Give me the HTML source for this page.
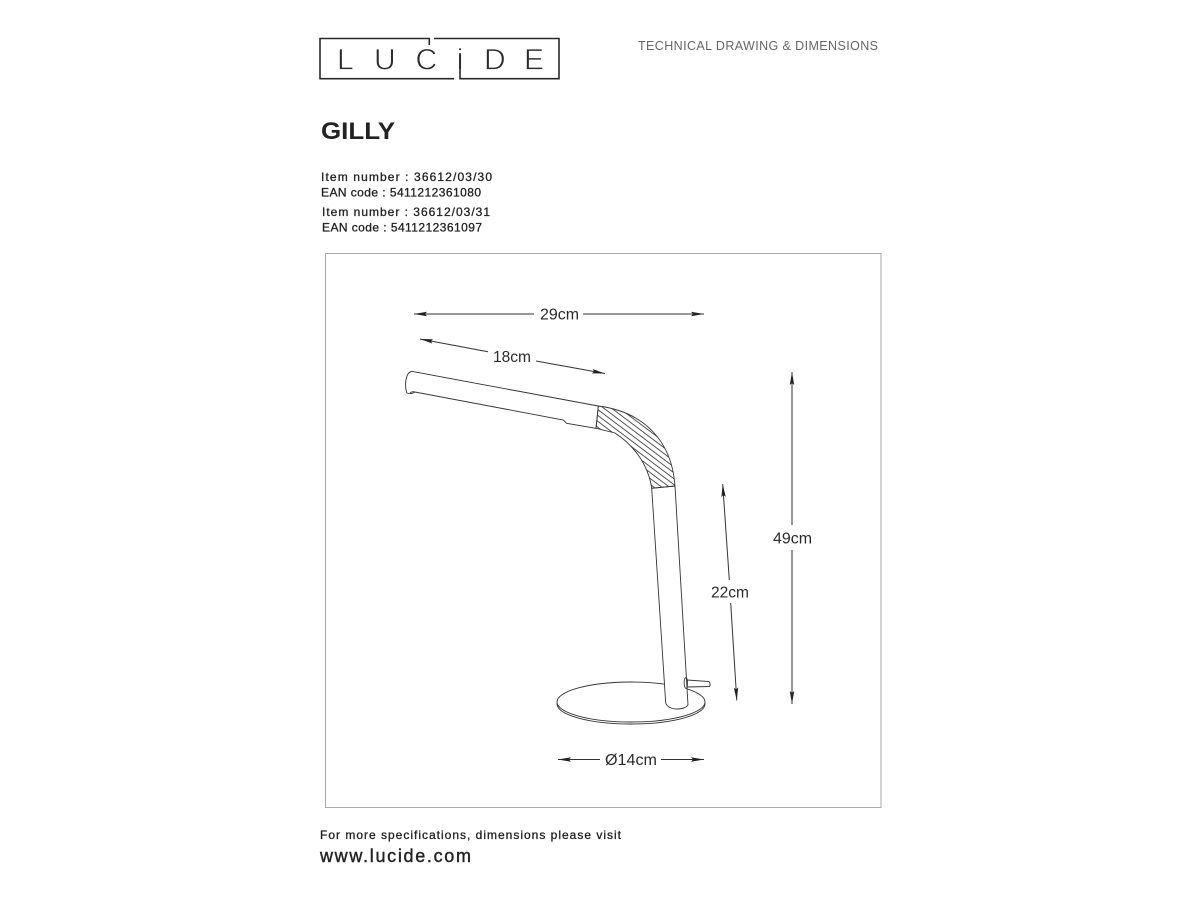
<!DOCTYPE html>
<html><head><meta charset="utf-8"><style>
html,body{margin:0;padding:0;background:#fff;width:1200px;height:900px;overflow:hidden}
svg{display:block}
text{font-family:"Liberation Sans",sans-serif}
.s{font-size:12px;fill:#222;stroke:#222;stroke-width:.3}
.d{font-size:15.5px;fill:#2a2a2a}
.l{font-size:30px;fill:#2a2a2a;stroke:#fff;stroke-width:.7}
.a{stroke:#333;stroke-width:1;fill:none;marker-end:url(#ah)}
.k{stroke:#333;stroke-width:.9;fill:none}
</style></head><body>
<svg width="1200" height="900" viewBox="0 0 1200 900" xmlns="http://www.w3.org/2000/svg">
<defs>
<marker id="ah" markerUnits="userSpaceOnUse" markerWidth="14" markerHeight="8" viewBox="0 -4 14 8" refX="13" refY="0" orient="auto">
<path d="M0,-2.2 L13,0 L0,2.2 L2,0 Z" fill="#222"/>
</marker>
<pattern id="h" width="20" height="4.7" patternUnits="userSpaceOnUse" patternTransform="translate(600 410) rotate(37)">
<line x1="0" y1="1" x2="20" y2="1" stroke="#333" stroke-width=".8"/>
</pattern>
</defs>

<!-- logo -->
<text class="l" x="337" y="69.500">L</text>
<text class="l" x="374" y="69.500">U</text>
<text class="l" x="415.500" y="69.500">C</text>
<text class="l" x="456.700" y="69.500">i</text>
<text class="l" x="484" y="69.500">D</text>
<text class="l" x="524" y="69.500">E</text>
<path d="M429.300 45V38.500H320V78.700H454M434 38.500H559V78.700H460V53" fill="none" stroke="#2a2a2a" stroke-width="1.6"/>

<text x="638" y="50" font-size="12.5" fill="#666" textLength="240" lengthAdjust="spacing">TECHNICAL DRAWING &amp; DIMENSIONS</text>
<text x="321" y="139" font-size="24" font-weight="bold" fill="#222" textLength="74" lengthAdjust="spacingAndGlyphs">GILLY</text>

<text class="s" x="321" y="181" textLength="171" lengthAdjust="spacing">Item number : 36612/03/30</text>
<text class="s" x="321" y="196.500" textLength="160" lengthAdjust="spacing">EAN code : 5411212361080</text>
<text class="s" x="322" y="216" textLength="168" lengthAdjust="spacing">Item number : 36612/03/31</text>
<text class="s" x="322" y="231.500" textLength="160" lengthAdjust="spacing">EAN code : 5411212361097</text>

<rect x="325.500" y="253.500" width="555.500" height="554" fill="none" stroke="#aaa" stroke-width="1"/>

<!-- dimensions -->
<path class="a" d="M534 314H414"/><path class="a" d="M583 314H704"/>
<text class="d" x="540" y="319.500" textLength="39" lengthAdjust="spacingAndGlyphs">29cm</text>
<path class="a" d="M488 351.700L420 339"/><path class="a" d="M536 361L605 373.500"/>
<text class="d" x="493" y="362" textLength="38" lengthAdjust="spacingAndGlyphs">18cm</text>
<path class="a" d="M792 525V372"/><path class="a" d="M792 550V704"/>
<text class="d" x="773" y="543.500" textLength="39" lengthAdjust="spacingAndGlyphs">49cm</text>
<path class="a" d="M729.300 580L722.700 484"/><path class="a" d="M730.700 603L736.800 700.500"/>
<text class="d" x="711" y="597.500" textLength="38" lengthAdjust="spacingAndGlyphs">22cm</text>
<path class="a" d="M600 759.500H558"/><path class="a" d="M661 759.500H704"/>
<text class="d" x="605" y="765" textLength="52" lengthAdjust="spacingAndGlyphs">Ø14cm</text>

<!-- base -->
<ellipse cx="631" cy="704" rx="74" ry="20" fill="#fff" stroke="#333" stroke-width=".9"/>
<ellipse cx="631" cy="702" rx="74" ry="20" fill="#fff" stroke="#333" stroke-width=".9"/>

<!-- stem -->
<path d="M651.700 488.300L665.700 703C667 707 672 709 677 709C682 709 686 708 688 705L675 486Z" fill="#fff" stroke="#333" stroke-width=".9"/>

<!-- switch -->
<path class="k" d="M687 680L709 681.500Q711 684 709.500 686.500L687 687"/>
<path class="k" d="M686 677.500C683.500 678 683.500 687 686 688.500C688 688 688 678 686 677.500Z" fill="#fff"/>

<!-- head -->
<path class="k" d="M598.300 406L415 372C412 371 410 371 408 374C405 379 405 388 407 393C410 394 412 394 415 392L563.300 420L566.700 423.300L596 428.300Z" fill="#fff"/>
<path class="k" d="M410 393Q412 391 415 392"/>

<!-- hatched bend -->
<path d="M598.300 406C645 412 672 442 675 486L651.700 488.300C648 463 632 444 615 433L596 428.300Z" fill="url(#h)" stroke="#333" stroke-width=".9"/>

<text class="s" x="320" y="839" textLength="301" lengthAdjust="spacing">For more specifications, dimensions please visit</text>
<text x="320" y="862" font-size="18" fill="#222" stroke="#222" stroke-width=".4" textLength="151" lengthAdjust="spacing">www.lucide.com</text>
</svg>
</body></html>
